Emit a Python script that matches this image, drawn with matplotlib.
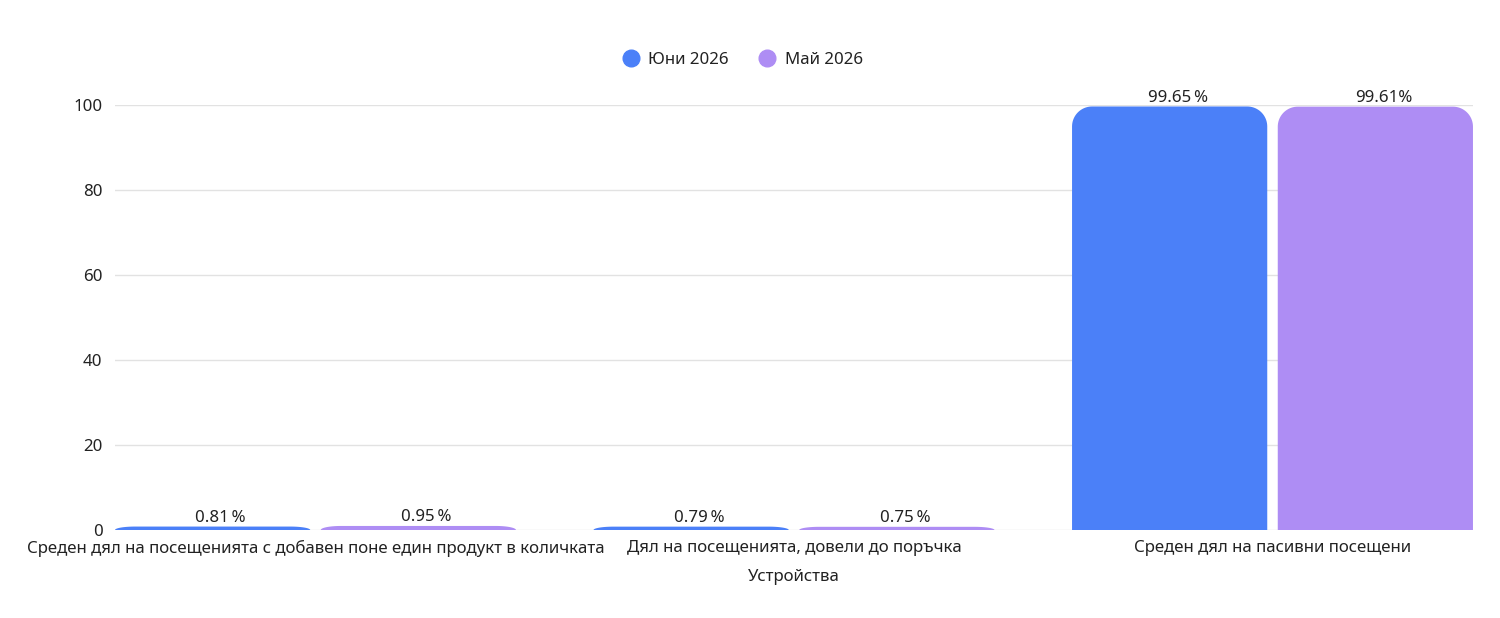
import numpy as np
import matplotlib.pyplot as plt
from matplotlib.path import Path
from matplotlib.patches import PathPatch
from matplotlib.lines import Line2D

plt.rcParams['font.family'] = ['Noto Sans', 'DejaVu Sans']

# data
categories = [
    "Среден дял на посещенията с добавен поне един продукт в количката",
    "Дял на посещенията, довели до поръчка",
    "Среден дял на пасивни посещени",
]
series_names = ["Юни 2026", "Май 2026"]
june = [0.81, 0.79, 99.65]
may = [0.95, 0.75, 99.61]
june_labels = ["0.81\u2009%", "0.79\u2009%", "99.65\u2009%"]
may_labels = ["0.95\u2009%", "0.75\u2009%", "99.61%"]

colors = ["#4b80f8", "#ae8df4"]
text_color = "#222222"
fs = 12.15

fig = plt.figure(figsize=(15, 6.18), dpi=100)
ax = fig.add_axes([115 / 1500, 88 / 618, 1358 / 1500, 425 / 618])

ax.set_xlim(-0.419, 2.419)
ax.set_ylim(0, 100)

# pixel -> data scale factors for rounded corners
px_x = 2.838 / 1358
px_y = 100 / 425


def rounded_bar(ax, x0, w, h, color, r_px=20):
    rx = min(r_px * px_x, w / 2)
    ry = min(r_px * px_y, h)
    t = np.linspace(0, np.pi / 2, 20)
    pts = [(x0, 0)]
    # top left corner
    cx, cy = x0 + rx, h - ry
    for a in t:
        pts.append((cx - rx * np.cos(a), cy + ry * np.sin(a)))
    # top right corner
    cx = x0 + w - rx
    for a in t[::-1]:
        pts.append((cx + rx * np.cos(a), cy + ry * np.sin(a)))
    pts.append((x0 + w, 0))
    pts.append((x0, 0))
    codes = [Path.MOVETO] + [Path.LINETO] * (len(pts) - 2) + [Path.CLOSEPOLY]
    ax.add_patch(PathPatch(Path(pts, codes), facecolor=color, edgecolor="none", zorder=3))


bar_w = 195 / 478
offset = 102.75 / 478
x = np.arange(len(categories))

for i, (vals, labels) in enumerate([(june, june_labels), (may, may_labels)]):
    sign = -1 if i == 0 else 1
    for xi, v, lab in zip(x, vals, labels):
        xc = xi + sign * offset
        rounded_bar(ax, xc - bar_w / 2, bar_w, v, colors[i])
        # labels sit a little right of the bar centre in the original
        ax.annotate(lab, (xc, v), xytext=(5.8, 0.5), textcoords="offset points",
                    ha="center", va="bottom", fontsize=fs, color=text_color)

ax.set_yticks([0, 20, 40, 60, 80, 100])
ax.set_xticks(x)
ax.set_xticklabels(categories)
ax.tick_params(axis="both", length=0, labelsize=fs, colors=text_color)
ax.tick_params(axis="x", pad=7)
ax.tick_params(axis="y", pad=9)
ax.grid(axis="y", color="#e2e2e2", linewidth=1, zorder=0)
ax.set_axisbelow(True)
for s in ax.spines.values():
    s.set_visible(False)
ax.set_xlabel("Устройства", fontsize=fs, color=text_color, labelpad=9)

handles = [Line2D([], [], marker="o", linestyle="none", markersize=12,
                  markerfacecolor=c, markeredgecolor=c) for c in colors]
fig.legend(handles, series_names, loc="center", bbox_to_anchor=(0.495, 1 - 60 / 618),
           ncol=2, frameon=False, fontsize=fs, handlelength=1.0, handletextpad=0.52,
           columnspacing=1.8, labelcolor=text_color)

fig.savefig("out.png", dpi=100)
